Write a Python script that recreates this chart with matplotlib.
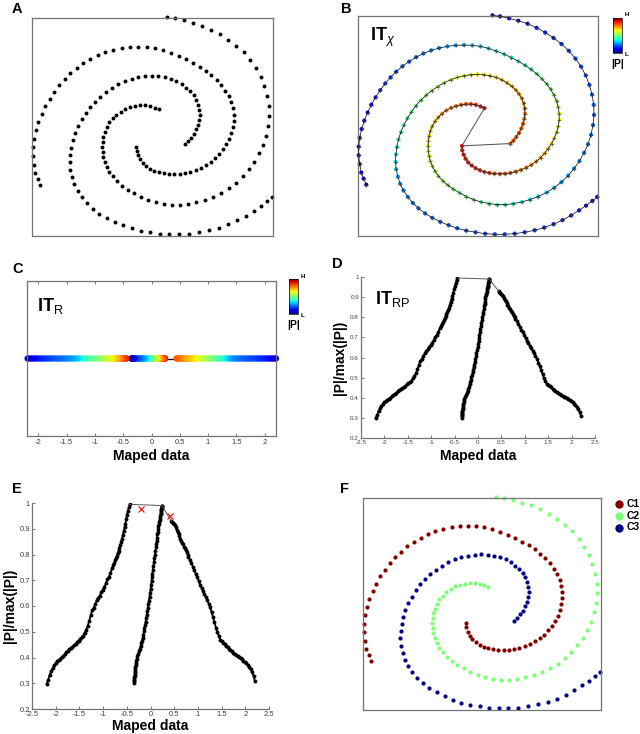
import numpy as np
import matplotlib
matplotlib.use("Agg")
import matplotlib.pyplot as plt
from matplotlib.colors import Normalize
from matplotlib.cm import ScalarMappable
from matplotlib.ticker import FormatStrFormatter

plt.rcParams["font.family"] = ["Liberation Sans", "DejaVu Sans"]
plt.rcParams["mathtext.fontset"] = "custom"
plt.rcParams["mathtext.rm"] = "Liberation Sans"
plt.rcParams["mathtext.bf"] = "Liberation Sans:bold"
plt.rcParams["mathtext.it"] = "Liberation Sans:italic"

# ---- spiral arms, points in picture units (x right, y down), tip -> outer end
c1_xy = [(320, 395), (321, 408), (325, 421), (331, 433), (339, 444), (349, 453), (361, 461), (374, 467),
         (388, 472), (403, 475), (418, 477), (434, 478), (450, 477), (466, 475), (482, 471), (498, 466),
         (514, 459), (529, 451), (544, 441), (557, 430), (569, 417), (580, 403), (590, 388), (598, 372),
         (605, 355), (610, 337), (613, 318), (613, 299), (610, 280), (605, 262), (597, 244), (587, 227),
         (575, 211), (561, 196), (545, 181), (528, 168), (510, 156), (490, 144), (469, 133), (447, 123),
         (424, 114), (400, 106), (376, 100), (351, 97), (326, 96), (301, 97), (276, 100), (251, 105),
         (227, 112), (204, 121), (182, 132), (161, 145), (141, 159), (122, 175), (105, 192), (89, 210),
         (74, 230), (60, 251), (47, 273), (36, 296), (26, 320), (18, 345), (12, 371), (9, 397),
         (9, 423), (12, 449), (17, 474), (24, 492), (32, 510)]
c2_xy = [(388, 283), (376, 278), (362, 273), (347, 271), (332, 271), (317, 273), (302, 277), (287, 282),
         (273, 290), (260, 299), (249, 310), (239, 322), (231, 336), (225, 350), (221, 365), (219, 380),
         (218, 395), (219, 410), (221, 425), (225, 440), (231, 455), (239, 470), (249, 484), (262, 498),
         (277, 511), (294, 523), (313, 534), (333, 545), (355, 554), (378, 561), (402, 566), (426, 569),
         (450, 569), (475, 566), (500, 561), (525, 554), (550, 545), (575, 533), (598, 519), (620, 502),
         (640, 483), (658, 462), (674, 440), (688, 415), (700, 390), (709, 362), (715, 333), (718, 303),
         (717, 273), (712, 243), (704, 214), (693, 186), (679, 160), (662, 136), (642, 113), (620, 93),
         (596, 75), (571, 59), (545, 45), (518, 33), (490, 24), (462, 17), (435, 11), (412, 8)]
c3_xy = [(466, 388), (475, 379), (484, 368), (492, 356), (499, 343), (504, 329), (508, 314), (510, 299),
         (509, 284), (506, 269), (500, 254), (492, 241), (482, 229), (470, 218), (456, 208), (440, 199),
         (423, 192), (405, 187), (386, 184), (366, 183), (346, 184), (326, 187), (306, 192), (286, 199),
         (266, 208), (247, 219), (229, 231), (212, 245), (196, 260), (181, 276), (168, 294), (156, 313),
         (145, 333), (136, 354), (129, 376), (124, 398), (121, 420), (120, 442), (122, 464), (127, 486),
         (134, 507), (144, 527), (157, 546), (172, 564), (189, 580), (209, 595), (231, 608), (255, 620),
         (280, 630), (306, 639), (333, 646), (361, 651), (390, 655), (419, 657), (449, 657), (479, 655),
         (509, 651), (539, 645), (568, 637), (596, 627), (623, 615), (649, 601), (673, 586), (694, 572),
         (713, 558), (728, 546)]

# ---- mapped data and |P|/max(|P|) for the same points
c1_mp = [(0.240, 0.990), (0.238, 0.988), (0.236, 0.985), (0.233, 0.982), (0.230, 0.978), (0.225, 0.973),
         (0.221, 0.968), (0.216, 0.962), (0.211, 0.956), (0.205, 0.950), (0.199, 0.943), (0.192, 0.935),
         (0.185, 0.927), (0.176, 0.918), (0.168, 0.909), (0.159, 0.899), (0.153, 0.889), (0.146, 0.878),
         (0.139, 0.866), (0.131, 0.854), (0.123, 0.841), (0.115, 0.828), (0.105, 0.814), (0.095, 0.800),
         (0.084, 0.786), (0.073, 0.771), (0.062, 0.756), (0.051, 0.741), (0.040, 0.726), (0.032, 0.711),
         (0.022, 0.696), (0.013, 0.681), (0.004, 0.666), (-0.008, 0.651), (-0.020, 0.636), (-0.033, 0.621),
         (-0.044, 0.607), (-0.056, 0.593), (-0.068, 0.579), (-0.080, 0.565), (-0.092, 0.552), (-0.103, 0.539),
         (-0.114, 0.526), (-0.127, 0.513), (-0.139, 0.501), (-0.151, 0.489), (-0.164, 0.477), (-0.180, 0.466),
         (-0.195, 0.455), (-0.210, 0.444), (-0.224, 0.434), (-0.241, 0.424), (-0.259, 0.414), (-0.276, 0.405),
         (-0.291, 0.396), (-0.302, 0.387), (-0.307, 0.379), (-0.313, 0.371), (-0.318, 0.363), (-0.323, 0.356),
         (-0.327, 0.349), (-0.331, 0.342), (-0.334, 0.336), (-0.337, 0.330), (-0.340, 0.324), (-0.343, 0.318),
         (-0.345, 0.313), (-0.348, 0.307), (-0.350, 0.300)]
c2_mp = [(-0.440, 0.995), (-0.458, 0.983), (-0.476, 0.970), (-0.494, 0.955), (-0.512, 0.938), (-0.530, 0.920),
         (-0.548, 0.905), (-0.566, 0.890), (-0.584, 0.876), (-0.602, 0.862), (-0.620, 0.848), (-0.638, 0.836),
         (-0.656, 0.826), (-0.674, 0.815), (-0.692, 0.805), (-0.710, 0.795), (-0.728, 0.786), (-0.746, 0.777),
         (-0.764, 0.768), (-0.782, 0.759), (-0.814, 0.746), (-0.846, 0.728), (-0.878, 0.713), (-0.910, 0.703),
         (-0.942, 0.688), (-0.974, 0.674), (-1.006, 0.664), (-1.038, 0.654), (-1.070, 0.640), (-1.102, 0.632),
         (-1.134, 0.623), (-1.166, 0.606), (-1.198, 0.594), (-1.230, 0.583), (-1.262, 0.565), (-1.294, 0.541),
         (-1.326, 0.522), (-1.358, 0.507), (-1.390, 0.496), (-1.422, 0.485), (-1.454, 0.478), (-1.486, 0.472),
         (-1.518, 0.466), (-1.550, 0.459), (-1.582, 0.453), (-1.614, 0.447), (-1.646, 0.442), (-1.678, 0.437),
         (-1.710, 0.432), (-1.742, 0.426), (-1.774, 0.420), (-1.806, 0.414), (-1.838, 0.407), (-1.870, 0.401),
         (-1.902, 0.396), (-1.934, 0.391), (-1.966, 0.385), (-1.998, 0.378), (-2.030, 0.370), (-2.062, 0.360),
         (-2.094, 0.348), (-2.126, 0.333), (-2.158, 0.314), (-2.190, 0.298)]
c3_mp = [(0.440, 0.930), (0.459, 0.926), (0.478, 0.922), (0.497, 0.918), (0.516, 0.913), (0.535, 0.905),
         (0.554, 0.896), (0.573, 0.887), (0.592, 0.879), (0.611, 0.870), (0.630, 0.862), (0.649, 0.854),
         (0.668, 0.846), (0.687, 0.839), (0.706, 0.831), (0.725, 0.824), (0.744, 0.816), (0.763, 0.808),
         (0.782, 0.800), (0.801, 0.792), (0.832, 0.779), (0.862, 0.767), (0.893, 0.753), (0.923, 0.739),
         (0.954, 0.726), (0.984, 0.712), (1.015, 0.698), (1.045, 0.683), (1.076, 0.671), (1.106, 0.659),
         (1.137, 0.647), (1.167, 0.634), (1.198, 0.622), (1.228, 0.609), (1.259, 0.595), (1.289, 0.575),
         (1.320, 0.556), (1.350, 0.536), (1.381, 0.516), (1.411, 0.498), (1.442, 0.483), (1.472, 0.469),
         (1.503, 0.463), (1.533, 0.457), (1.564, 0.451), (1.594, 0.445), (1.625, 0.439), (1.655, 0.433),
         (1.686, 0.428), (1.716, 0.424), (1.747, 0.419), (1.777, 0.415), (1.808, 0.410), (1.838, 0.406),
         (1.869, 0.402), (1.899, 0.397), (1.930, 0.393), (1.960, 0.388), (1.991, 0.383), (2.021, 0.378),
         (2.052, 0.371), (2.082, 0.364), (2.113, 0.354), (2.143, 0.343), (2.174, 0.327), (2.200, 0.310)]

cluster_names = ["C1", "C2", "C3"]
red_x = [(-0.20, 0.975), (0.41, 0.948)]
map_ticks = [-2, -1.5, -1, -0.5, 0, 0.5, 1, 1.5, 2]
curve_xticks = [-2.5, -2, -1.5, -1, -0.5, 0, 0.5, 1, 1.5, 2, 2.5]
curve_yticks = [0.2, 0.3, 0.4, 0.5, 0.6, 0.7, 0.8, 0.9, 1]

arms_xy = [np.array(a, dtype=float) for a in (c1_xy, c2_xy, c3_xy)]
arms_mp = [np.array(a, dtype=float) for a in (c1_mp, c2_mp, c3_mp)]

W, H = 640, 734
fig = plt.figure(figsize=(W / 100, H / 100), dpi=100)
cmap = plt.get_cmap("jet")
norm = Normalize(vmin=0.25, vmax=1.08)
box_col = "0.45"


def px_axes(x0, y0, x1, y1):
    return fig.add_axes([x0 / W, 1 - y1 / H, (x1 - x0) / W, (y1 - y0) / H])


def spiral_frame(ax):
    ax.set_xlim(7, 730)
    ax.set_ylim(662, 10)
    ax.set_xticks([])
    ax.set_yticks([])
    for s in ax.spines.values():
        s.set_color(box_col)
        s.set_linewidth(0.9)


def label(x, y, s):
    fig.text(x / W, 1 - y / H, s, fontsize=10.5, fontweight="bold", va="top", ha="left")


def small_cbar(x0, y0, x1, y1):
    cax = px_axes(x0, y0, x1, y1)
    cb = fig.colorbar(ScalarMappable(norm=Normalize(0, 1), cmap=cmap), cax=cax)
    cb.set_ticks([])
    cb.outline.set_linewidth(0.5)
    fig.text((x1 + 3) / W, 1 - (y0 - 3) / H, "H", fontsize=4.5, fontweight="bold", va="center")
    fig.text((x1 + 3) / W, 1 - (y1 + 1) / H, "L", fontsize=4.5, fontweight="bold", va="center")
    fig.text((x0 + x1) / 2 / W, 1 - (y1 + 11) / H, "|P|", fontsize=7.5, fontweight="bold",
             ha="center", va="center")


def curve_panel(ax, tick_fs, xlabel_pad):
    for mp in arms_mp:
        ax.plot(mp[:, 0], mp[:, 1], "-", color="k", lw=1.3, marker="o", ms=1.8, mec="k")
    tips = np.array([arms_mp[1][0], arms_mp[0][0], arms_mp[2][0]])
    ax.plot(tips[:, 0], tips[:, 1], "-", color="0.35", lw=0.7)
    ax.set_xlim(-2.5, 2.5)
    ax.set_ylim(0.2, 1.0)
    ax.set_xticks(curve_xticks)
    ax.set_yticks(curve_yticks)
    ax.xaxis.set_major_formatter(FormatStrFormatter("%g"))
    ax.yaxis.set_major_formatter(FormatStrFormatter("%g"))
    ax.tick_params(direction="in", length=2, width=0.5, labelsize=tick_fs, pad=1.5, colors="0.25")
    for side in ("top", "right"):
        ax.spines[side].set_visible(False)
    for side in ("left", "bottom"):
        ax.spines[side].set_color(box_col)
        ax.spines[side].set_linewidth(0.9)
    ax.set_xlabel("Maped data", fontsize=10, fontweight="bold", labelpad=xlabel_pad)
    ax.set_ylabel("|P|/max(|P|)", fontsize=10, fontweight="bold", labelpad=2)


# ---- A
axA = px_axes(32, 18, 273, 236)
for xy in arms_xy:
    axA.scatter(xy[:, 0], xy[:, 1], s=8, c="k", lw=0, clip_on=False)
spiral_frame(axA)
label(12, 2, "A")

# ---- B
axB = px_axes(358, 16, 598, 236)
for xy, mp in zip(arms_xy, arms_mp):
    axB.scatter(xy[:, 0], xy[:, 1], s=9, c=mp[:, 1], cmap=cmap, norm=norm, lw=0, clip_on=False, zorder=2)
    axB.plot(xy[:, 0], xy[:, 1], "-", color="k", lw=0.5, marker="+", ms=2.2, mew=0.4,
             mec="0.25", zorder=3, clip_on=False)
tips_xy = np.array([arms_xy[1][0], arms_xy[0][0], arms_xy[2][0]])
axB.plot(tips_xy[:, 0], tips_xy[:, 1], "-", color="0.3", lw=0.7, zorder=1)
spiral_frame(axB)
fig.text(370 / W, 1 - 41 / H, r"$\mathbf{IT}_{\chi}$", fontsize=13, va="baseline")
small_cbar(613, 18, 622, 53)
label(341, 2, "B")

# ---- C
axC = px_axes(27, 281, 276, 436)
all_mp = np.concatenate(arms_mp)
order = np.argsort(all_mp[:, 0])
axC.plot(all_mp[order, 0], np.zeros(len(order)), "-", color="k", lw=0.9, zorder=1)
axC.scatter(all_mp[:, 0], np.zeros(len(all_mp)), s=20, marker="o", c=all_mp[:, 1], cmap=cmap,
            norm=norm, lw=0, zorder=2, clip_on=False)
axC.set_xlim(-2.2, 2.2)
axC.set_ylim(-1, 1)
axC.set_xticks(map_ticks)
axC.xaxis.set_major_formatter(FormatStrFormatter("%g"))
axC.set_yticks([])
axC.tick_params(axis="x", direction="in", length=2.5, width=0.5, top=True, labelsize=5.5,
                pad=2, colors="0.25")
for s in axC.spines.values():
    s.set_color(box_col)
    s.set_linewidth(0.9)
axC.set_xlabel("Maped data", fontsize=10, fontweight="bold", labelpad=2)
fig.text(37 / W, 1 - 311 / H, r"$\mathbf{IT}_{\mathrm{R}}$", fontsize=13, va="baseline")
small_cbar(289, 279, 298, 314)
label(12, 262, "C")

# ---- D
axD = px_axes(361, 277, 595, 438)
curve_panel(axD, 4.5, 3)
fig.text(375 / W, 1 - 304 / H, r"$\mathbf{IT}_{\mathrm{RP}}$", fontsize=13, va="baseline")
label(332, 257, "D")

# ---- E
axE = px_axes(32, 503, 269, 709)
curve_panel(axE, 5.5, 0.5)
rx = np.array(red_x)
axE.plot(rx[:, 0], rx[:, 1], "x", color="red", ms=5, mew=0.8, zorder=4)
label(12, 482, "E")

# ---- F
axF = px_axes(363, 498, 601, 710)
for k, xy in enumerate(arms_xy):
    axF.scatter(xy[:, 0], xy[:, 1], s=9, color=cmap([1.0, 0.5, 0.0][k]), lw=0, clip_on=False,
                label=cluster_names[k])
spiral_frame(axF)
fig.legend(*axF.get_legend_handles_labels(), loc="upper left", bbox_to_anchor=(608 / W, 1 - 494 / H),
           frameon=False, prop={"weight": "bold", "size": 7.5}, markerscale=2.0,
           handletextpad=0.1, labelspacing=0.15, borderpad=0, handlelength=1.2)
label(340, 482, "F")

fig.savefig("out.png", dpi=100)
